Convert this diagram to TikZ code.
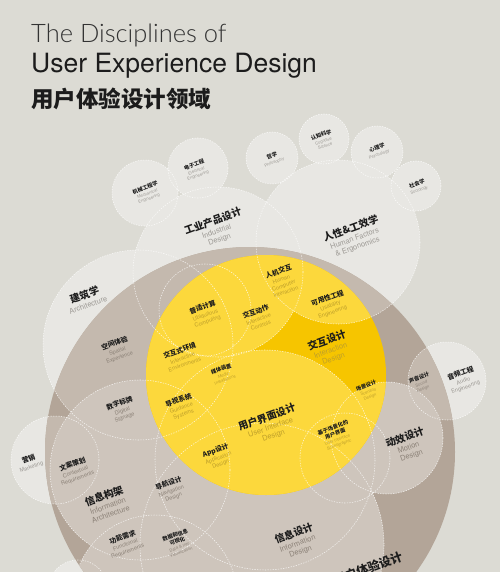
\documentclass[tikz,border=0pt]{standalone}
\usepackage{fontspec}
\setmainfont{TeX Gyre Heros}
\newfontfamily\zh{Noto Sans CJK SC}
\IfFontExistsTF{Lato Light}{\newfontfamily\thinf{Lato Light}}{\newfontfamily\thinf{TeX Gyre Heros}}
\definecolor{bgc}{HTML}{DCDBD4}
\definecolor{outerL}{HTML}{E8E7E3}
\definecolor{taupeD}{HTML}{B3A598}
\definecolor{taupeM}{HTML}{C4B9AE}
\definecolor{taupeL}{HTML}{CEC5BC}
\definecolor{gold}{HTML}{F6C500}
\definecolor{ylight}{HTML}{FCD83C}
\definecolor{eL}{HTML}{9D9A95}
\definecolor{eT}{HTML}{8C8278}
\definecolor{eY}{HTML}{BE9F2A}
\definecolor{ink}{HTML}{1C1C1C}
\newcommand\zA{\zh\bfseries\fontsize{10}{11.5}\selectfont}
\newcommand\eA{\normalfont\fontsize{7.5}{8.6}\selectfont}
\newcommand\zB{\zh\bfseries\fontsize{6.8}{8}\selectfont}
\newcommand\eB{\normalfont\fontsize{5.6}{6.6}\selectfont}
\newcommand\zC{\zh\bfseries\fontsize{5.3}{6.3}\selectfont}
\newcommand\eC{\normalfont\fontsize{4.2}{5}\selectfont}
\newcommand\lbl[7]{\node[lab] (#1) at (#2) {\parbox{90pt}{\centering #3 #4\\[1pt]#5\color{#6}#7\par}};}
\tikzset{
  dcirc/.style={draw=white, line width=0.55pt, dash pattern=on 1.3pt off 1.3pt, draw opacity=0.8},
  lab/.style={rotate=20, inner sep=0pt, text=ink},
  ttl/.style={anchor=base west, inner sep=0pt, text=ink}
}
\begin{document}
\begin{tikzpicture}[x=1pt,y=-1pt]
\useasboundingbox (0,0) rectangle (500,572);
\clip (0,0) rectangle (500,572);
\fill[bgc] (0,0) rectangle (500,572);
% outer light circles
\fill[outerL] (145,193) circle[radius=33] (198,168) circle[radius=30] (272,158) circle[radius=26]
  (324,139) circle[radius=25] (377,152) circle[radius=26] (416,186) circle[radius=25]
  (447,381) circle[radius=39] (55,460) circle[radius=44] (78,590) circle[radius=30]
  (218,272) circle[radius=85] (338,242) circle[radius=82] (138,345) circle[radius=95];
% user experience circle
\fill[taupeD] (250,452) circle[radius=205];
\begin{scope}
  \clip (250,452) circle[radius=205];
  \fill[taupeM] (218,272) circle[radius=85] (338,242) circle[radius=82] (138,345) circle[radius=95]
    (55,460) circle[radius=44] (447,381) circle[radius=39];
  \fill[taupeL] (140,470) circle[radius=90] (262,545) circle[radius=122] (387,438) circle[radius=56]
    (345,458) circle[radius=45] (265,460) circle[radius=110] (155,597) circle[radius=82];
\end{scope}
% yellow
\fill[gold] (266,375) circle[radius=120];
\begin{scope}
  \clip (266,375) circle[radius=120];
  \fill[ylight] (218,272) circle[radius=85] (338,242) circle[radius=82] (138,345) circle[radius=95]
    (265,460) circle[radius=110] (387,438) circle[radius=56] (345,458) circle[radius=45]
    (140,470) circle[radius=90] (262,545) circle[radius=122];
\end{scope}
% dashed outlines
\draw[dcirc] (145,193) circle[radius=33] (198,168) circle[radius=30] (272,158) circle[radius=26]
  (324,139) circle[radius=25] (377,152) circle[radius=26] (416,186) circle[radius=25]
  (447,381) circle[radius=39] (55,460) circle[radius=44] (78,590) circle[radius=30]
  (218,272) circle[radius=85] (338,242) circle[radius=82] (138,345) circle[radius=95];
\begin{scope}
  \clip (250,452) circle[radius=205];
  \draw[dcirc] (140,470) circle[radius=90] (262,545) circle[radius=122] (387,438) circle[radius=56]
    (345,458) circle[radius=45] (265,460) circle[radius=110] (155,597) circle[radius=82]
    (205,310) circle[radius=46];
\end{scope}
% title
\node[ttl, font=\thinf\fontsize{25.5}{28}\selectfont, text=black!80] (t1) at (31,43) {The Disciplines of};
\node[ttl, font=\fontsize{26.5}{28}\selectfont] (t2) at (31,73) {User Experience Design};
\node[ttl, font=\zh\bfseries\fontsize{22.5}{24}\selectfont] (t3) at (31,108) {用户体验设计领域};
% big labels
\lbl{id}{216,230}{\zA}{工业产品设计}{\eA}{eL}{Industrial\\Design}
\lbl{hf}{354,237}{\zA}{人性\&工效学}{\eA}{eL}{Human Factors\\\& Ergonomics}
\lbl{arch}{86,299}{\zA}{建筑学}{\eA}{eL}{Architecture}
\lbl{ixd}{330,349}{\zA}{交互设计}{\eA}{eY}{Interaction\\Design}
\lbl{ui}{270,426}{\zA}{用户界面设计}{\eA}{eY}{User Interface\\Design}
\lbl{ia}{107,504}{\zA}{信息构架}{\eA}{eT}{Information\\Architecture}
\lbl{infod}{297,542}{\zA}{信息设计}{\eA}{eT}{Information\\Design}
\lbl{motion}{408,446}{\zA}{动效设计}{\eA}{eT}{Motion\\Design}
\node[lab, font=\zh\bfseries\fontsize{12}{13}\selectfont] (ux) at (368,568) {用户体验设计};
% mid labels
\lbl{ubiq}{205,314}{\zB}{普适计算}{\eB}{eY}{Ubiquitous\\Computing}
\lbl{hci}{282,281}{\zB}{人机交互}{\eB}{eY}{Human\\Computer\\Interaction}
\lbl{ictl}{258,318}{\zB}{交互动作}{\eB}{eY}{Interactive\\Controls}
\lbl{usab}{330,305}{\zB}{可用性工程}{\eB}{eY}{Usability\\Engineering}
\lbl{ienv}{182,357}{\zB}{交互式环境}{\eB}{eY}{Interactive\\Environments}
\lbl{guide}{181,407}{\zB}{导视系统}{\eB}{eY}{Guidance\\Systems}
\lbl{app}{218,457}{\zB}{App设计}{\eB}{eY}{Application\\Design}
\lbl{spatial}{117,350}{\zB}{空间体验}{\eB}{eT}{Spatial\\Experience}
\lbl{signage}{122,410}{\zB}{数字标牌}{\eB}{eT}{Digital\\Signage}
\lbl{context}{75,471}{\zB}{文案策划}{\eB}{eT}{Contextual\\Requirements}
\lbl{market}{30,463}{\zB}{营销}{\eB}{eL}{Marketing}
\lbl{nav}{171,490}{\zB}{导航设计}{\eB}{eT}{Navigation\\Design}
\lbl{func}{125,544}{\zB}{功能需求}{\eB}{eT}{Functional\\Requirements}
\lbl{audio}{463,380}{\zB}{音频工程}{\eB}{eL}{Audio\\Engineering}
% small labels
\lbl{dataviz}{178,543}{\zC}{数据和信息\\可视化}{\eC}{eT}{Data \& Info\\Visualization}
\lbl{mech}{147,193}{\zC}{机械工程学}{\eC}{eL}{Mechanical\\Engineering}
\lbl{elec}{196,170}{\zC}{电子工程}{\eC}{eL}{Electrical\\Engineering}
\lbl{phil}{273,159}{\zC}{哲学}{\eC}{eL}{Philosophy}
\lbl{cog}{323,140}{\zC}{认知科学}{\eC}{eL}{Cognitive\\Science}
\lbl{psy}{378,151}{\zC}{心理学}{\eC}{eL}{Psychology}
\lbl{soc}{418,187}{\zC}{社会学}{\eC}{eL}{Sociology}
\lbl{media}{223,374}{\zC}{媒体装置}{\eC}{eY}{Media\\Installations}
\lbl{scen}{368,391}{\zC}{场景设计}{\eC}{eY}{Scenario\\Design}
\lbl{uiscen}{336,436}{\zC}{基于场景化的\\用户界面}{\eC}{eY}{User Interface\\Scenographic}
\lbl{sound}{421,383}{\zC}{声音设计}{\eC}{eT}{Sound\\Design}
\end{tikzpicture}
\end{document}
